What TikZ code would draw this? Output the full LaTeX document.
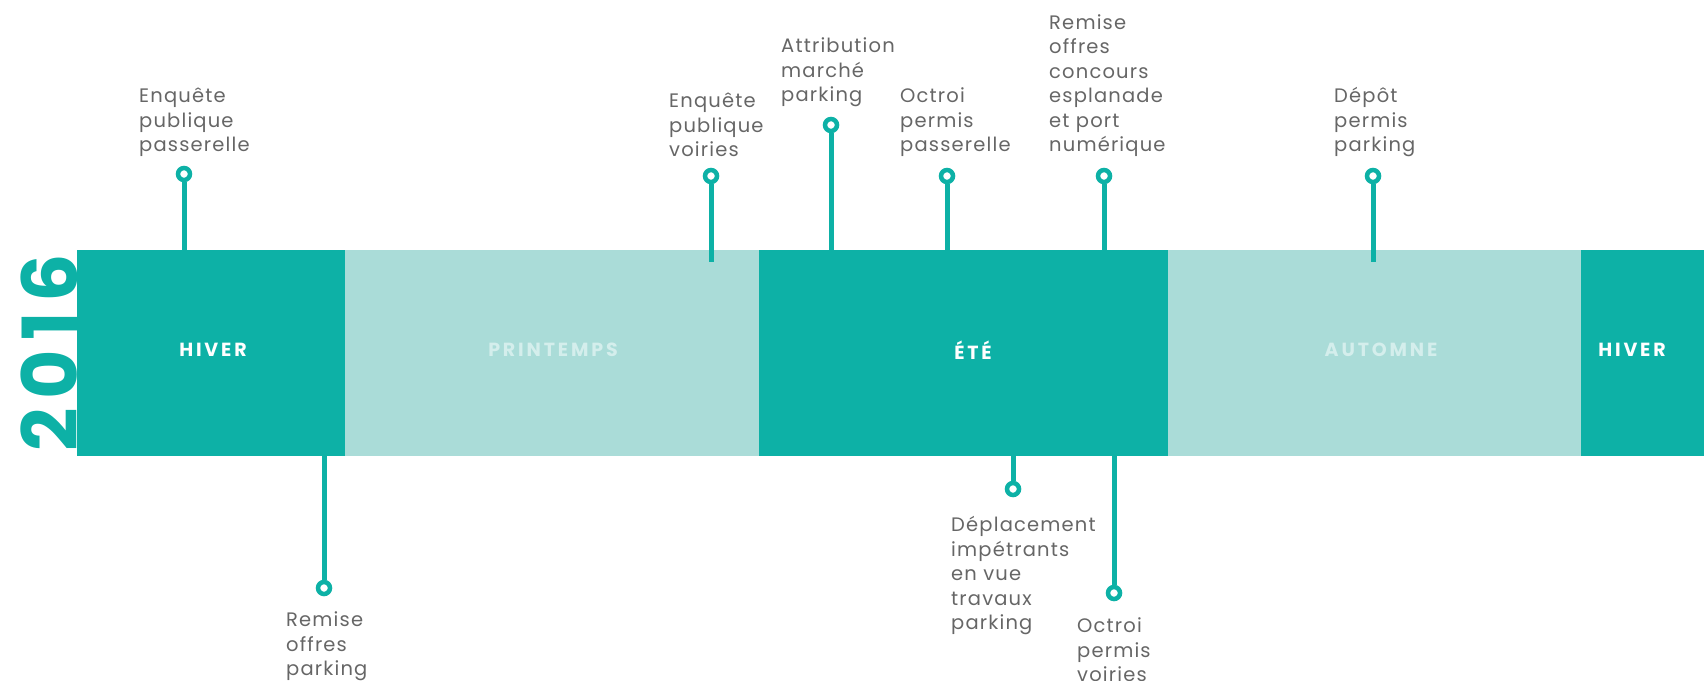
\documentclass[tikz,border=0pt]{standalone}
\usepackage{fontspec}
\setmainfont{Poppins}
\newfontfamily\lblfont[LetterSpace=6]{Poppins}
\newfontfamily\seasonfont[LetterSpace=15]{Poppins}
\newfontfamily\yearfont[LetterSpace=12]{Poppins}
\definecolor{tealA}{HTML}{0DB1A6}
\definecolor{tealB}{HTML}{AADCD8}
\definecolor{txtgray}{HTML}{666666}
\definecolor{faintw}{HTML}{D4EEEC}
\tikzset{
  seg/.style={anchor=north west, inner sep=0pt, minimum height=206pt},
  season/.style={font=\seasonfont\bfseries\fontsize{19}{19}\selectfont, inner sep=0pt},
  pinc/.style={circle, draw=tealA, line width=4.5pt, fill=white, minimum size=12pt, inner sep=0pt},
  stem/.style={draw=tealA, line width=5pt},
  lbl/.style={font=\lblfont\fontsize{19.5}{24.5}\selectfont, text=txtgray, align=left, inner sep=0pt, text depth=0pt, anchor=south west}
}
\begin{document}
\begin{tikzpicture}[x=1pt,y=-1pt]
\useasboundingbox (0,0) rectangle (1704,680);
% bar segments
\node[seg, fill=tealA, minimum width=268pt] (s1) at (77,250) {};
\node[seg, fill=tealB, minimum width=414pt] (s2) at (345,250) {};
\node[seg, fill=tealA, minimum width=409pt] (s3) at (759,250) {};
\node[seg, fill=tealB, minimum width=413pt] (s4) at (1168,250) {};
\node[seg, fill=tealA, minimum width=140pt] (s5) at (1581,250) {};
% season labels
\node[season, text=white] (l1) at (213,350) {HIVER};
\node[season, text=faintw] (l2) at (553,350) {PRINTEMPS};
\node[season, text=white] (l3) at (973,350) {ÉTÉ};
\node[season, text=faintw] (l4) at (1381,350) {AUTOMNE};
\node[season, text=white] (l5) at (1632,350) {HIVER};
% year
\node[rotate=90, font=\yearfont\bfseries\fontsize{76}{76}\selectfont, text=tealA, inner sep=0pt] (yr) at (49,353) {2016};
% stem end coordinates
\coordinate (e1) at (184,250);
\coordinate (e2) at (324,456);
\coordinate (e3) at (711,262);
\coordinate (e4) at (831,250);
\coordinate (e5) at (947,250);
\coordinate (e6) at (1104,250);
\coordinate (e7) at (1373,262);
\coordinate (e8) at (1013,456);
\coordinate (e9) at (1114,456);
% pins
\node[pinc] (p1) at (184,174) {};
\node[pinc] (p2) at (324,588) {};
\node[pinc] (p3) at (711,176) {};
\node[pinc] (p4) at (831,125) {};
\node[pinc] (p5) at (947,176) {};
\node[pinc] (p6) at (1104,176) {};
\node[pinc] (p7) at (1373,176) {};
\node[pinc] (p8) at (1013,489) {};
\node[pinc] (p9) at (1114,593) {};
% stems
\draw[stem] (p1.south) -- (e1);
\draw[stem] (p2.north) -- (e2);
\draw[stem] (p3.south) -- (e3);
\draw[stem] (p4.south) -- (e4);
\draw[stem] (p5.south) -- (e5);
\draw[stem] (p6.south) -- (e6);
\draw[stem] (p7.south) -- (e7);
\draw[stem] (p8.north) -- (e8);
\draw[stem] (p9.north) -- (e9);
% labels
\node[lbl] (t1) at (139,152) {Enquête\\publique\\passerelle};
\node[lbl] (t2) at (286,676) {Remise\\offres\\parking};
\node[lbl] (t3) at (669,157) {Enquête\\publique\\voiries};
\node[lbl] (t4) at (781,102) {Attribution\\marché\\parking};
\node[lbl] (t5) at (900,152) {Octroi\\permis\\passerelle};
\node[lbl] (t6) at (1049,152) {Remise\\offres\\concours\\esplanade\\et port\\numérique};
\node[lbl] (t7) at (1334,152) {Dépôt\\permis\\parking};
\node[lbl] (t8) at (951,630) {Déplacement\\impétrants\\en vue\\travaux\\parking};
\node[lbl] (t9) at (1077,682) {Octroi\\permis\\voiries};
\end{tikzpicture}
\end{document}
